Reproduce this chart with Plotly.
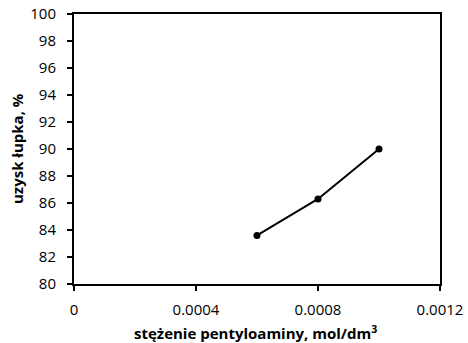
import plotly.graph_objects as go

conc = [0.0006, 0.0008, 0.0010]
yield_pct = [83.6, 86.3, 90.0]
x_ticks = [0, 0.0004, 0.0008, 0.0012]
x_tick_labels = ["0", "0.0004", "0.0008", "0.0012"]
y_ticks = list(range(80, 101, 2))
x_title = "<b>stężenie pentyloaminy, mol/dm<sup>3</sup></b>"
y_title = "<b>uzysk łupka, %</b>"

fig = go.Figure()
fig.add_trace(go.Scatter(
    x=conc, y=yield_pct, mode="lines+markers",
    line=dict(color="black", width=2),
    marker=dict(color="black", size=7),
    showlegend=False,
))

font = "Open Sans, Liberation Sans, sans-serif"
W, H = 468, 343
L, R, T, B = 74, 28, 14, 59
pw, ph = W - L - R, H - T - B

fig.update_layout(
    width=W, height=H,
    margin=dict(l=L, r=R, t=T, b=B, autoexpand=False),
    paper_bgcolor="white", plot_bgcolor="white",
    font=dict(family=font, size=15, color="black"),
)
fig.update_xaxes(
    range=[0, 0.0012], tickvals=x_ticks, ticktext=x_tick_labels,
    showline=True, linecolor="black", linewidth=2, mirror=True,
    ticks="outside", ticklen=5, tickwidth=1.5, tickcolor="black",
    showgrid=False, zeroline=False, automargin=False,
    tickfont=dict(size=15), ticklabelstandoff=6, ticklabeloverflow="allow",
)
fig.update_yaxes(
    range=[80, 100], tickvals=y_ticks,
    showline=True, linecolor="black", linewidth=2, mirror=True,
    ticks="outside", ticklen=5, tickwidth=1.5, tickcolor="black",
    showgrid=False, zeroline=False, automargin=False,
    tickfont=dict(size=15), ticklabelstandoff=8, ticklabeloverflow="allow",
)
fig.add_annotation(
    text=x_title, xref="paper", yref="paper",
    x=(255 - L) / pw, y=(T + ph - 332) / ph,
    xanchor="center", yanchor="middle", showarrow=False,
    font=dict(size=15, family=font),
)
fig.add_annotation(
    text=y_title, xref="paper", yref="paper",
    x=(17 - L) / pw, y=0.5, textangle=-90,
    xanchor="center", yanchor="middle", showarrow=False,
    font=dict(size=15, family=font),
)
fig.write_html(
    "out.html",
    config={"displayModeBar": False},
    post_script="document.body.style.margin='0';",
)
